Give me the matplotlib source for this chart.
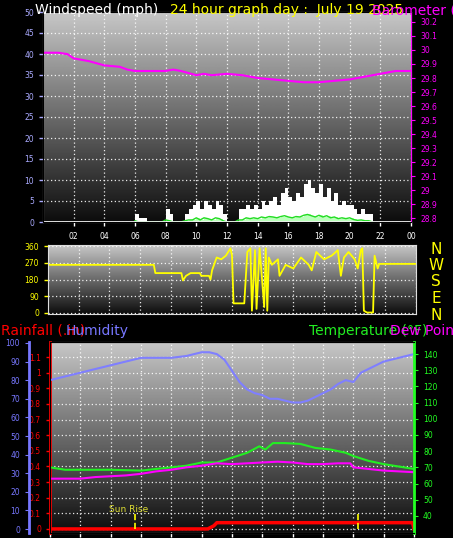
import numpy as np
import matplotlib
matplotlib.use("Agg")
import matplotlib.pyplot as plt

# ---- data ----
press_t = [0, 1, 1.6, 2, 3, 4, 5, 5.5, 6, 7, 8, 8.5, 9, 10, 10.5, 11, 12, 13, 14, 15, 16, 17, 18, 19, 20, 21, 22, 23, 24]
press_v = [29.98, 29.98, 29.97, 29.94, 29.92, 29.89, 29.88, 29.86, 29.85, 29.85, 29.85, 29.86, 29.85, 29.82, 29.83,
           29.82, 29.83, 29.82, 29.80, 29.79, 29.78, 29.77, 29.77, 29.78, 29.79, 29.81, 29.83, 29.85, 29.85]

wind_t = np.arange(6.0, 21.51, 0.25)
gust = [2, 1, 1, 0, 0, 0, 0, 0, 3, 2, 0, 0, 0, 2, 3, 4, 5, 3, 5, 4, 3, 5, 4, 2, 0, 0, 0, 3, 3, 4, 3, 4, 3, 5, 4, 5,
        6, 4, 7, 8, 6, 5, 7, 6, 9, 10, 8, 7, 9, 6, 8, 5, 7, 4, 5, 4, 4, 3, 2, 3, 2, 2, 0]
avg = [0.3, 0, 0, 0, 0, 0, 0, 0, 0.5, 0.3, 0, 0, 0, 0.3, 0.5, 0.5, 1, 0.5, 1, 0.8, 0.5, 1, 0.8, 0.3, 0, 0, 0, 0.5,
       0.5, 1, 0.8, 1, 0.8, 1.2, 1, 1.3, 1.2, 1, 1.3, 1.5, 1.2, 1, 1.3, 1.2, 1.6, 1.8, 1.5, 1.2, 1.6, 1.2, 1.5, 1,
       1.2, 0.8, 1, 0.8, 1, 0.6, 0.4, 0.5, 0.3, 0.3, 0]

dir_t = [0, 6.9, 7.0, 8.7, 8.8, 9.0, 9.3, 9.9, 10.0, 10.5, 10.6, 10.7, 11.0, 11.3, 11.6, 11.9, 12.0, 12.1, 12.8, 13.0,
         13.2, 13.3, 13.5, 13.6, 13.8, 14.1, 14.2, 14.3, 14.4, 14.6, 15.0, 15.1, 15.5, 16.0, 16.5, 17.0, 17.2, 17.5,
         18.0, 18.5, 18.9, 19.1, 19.3, 19.6, 20.0, 20.2, 20.4, 20.5, 20.6, 20.8, 21.2, 21.3, 21.5, 21.6, 24]
dir_v = [260, 260, 215, 215, 175, 200, 215, 215, 200, 200, 180, 230, 300, 290, 310, 350, 310, 50, 50, 330, 350, 10,
         340, 20, 350, 30, 350, 10, 300, 260, 290, 200, 260, 240, 300, 260, 230, 330, 290, 310, 340, 200, 300, 330,
         290, 240, 340, 350, 10, 0, 0, 310, 240, 265, 265]

hum_t = [0, 1, 2, 3, 4, 5, 6, 7, 8, 9, 10, 10.5, 11, 11.5, 12, 12.5, 13, 13.5, 14, 14.5, 15, 15.5, 16, 16.5, 17, 17.5,
         18, 18.5, 19, 19.5, 20, 20.5, 21, 22, 23, 24]
hum_v = [80, 82, 84, 86, 88, 90, 92, 92, 92, 93, 95, 95, 94, 91, 85, 79, 75, 73, 72, 70, 70, 69, 68, 68, 69, 71, 73,
         75, 78, 80, 79, 84, 86, 90, 92, 94]

temp_t = [0, 1, 4, 6, 7, 8, 9, 10, 11, 12, 13, 13.8, 14.2, 14.7, 15.5, 16.5, 17.5, 18.5, 19.5, 20, 21, 22, 23, 24]
temp_v = [70, 68.5, 68.5, 68, 69, 70, 71, 73, 73, 76, 79, 83, 81, 85, 85, 84.5, 82, 81, 79, 77, 74, 72, 70.5, 69]

dew_t = [0, 2, 3, 4, 5, 6, 7, 8, 9, 10, 11, 12, 13, 14, 15, 16, 17, 18, 19, 19.8, 20, 21, 22, 23, 24]
dew_v = [63, 63, 64, 64.5, 65, 66, 67.5, 68.5, 70, 71, 72.5, 72, 72.5, 73, 73.5, 73, 72, 72, 72.5, 72.5, 70, 69, 68,
         67.5, 67]

rain_t = [0, 10.4, 10.8, 11.0, 23.9, 24]
rain_v = [0, 0, 0.02, 0.04, 0.04, 0]

sun_times = [5.6, 20.3]
hour_labels = ["02", "04", "06", "08", "10", "12", "14", "16", "18", "20", "22", "00"]

W, H = 453, 538
fig = plt.figure(figsize=(W / 100, H / 100), dpi=100, facecolor="black")


def box(l, t, r, b):
    return [l / W, 1 - b / H, (r - l) / W, (b - t) / H]


grad = np.linspace(0.78, 0.05, 256).reshape(-1, 1)


def style(ax):
    ax.set_facecolor("black")
    ax.imshow(grad, cmap="gray", vmin=0, vmax=1, aspect="auto", extent=[0, 1, 0, 1],
              transform=ax.transAxes, zorder=0)
    ax.grid(True, color="white", linestyle=(0, (1, 2)), linewidth=0.9, alpha=0.9)
    for s in ax.spines.values():
        s.set_color("#dddddd")
    ax.tick_params(labelsize=5.5, length=3, width=1)


# ---- top: wind + pressure ----
ax1 = fig.add_axes(box(43, 12, 411, 222))
style(ax1)
ax1.set_xlim(0, 24)
ax1.set_ylim(0, 50)
ax1.set_yticks(range(0, 51, 5))
ax1.tick_params(axis="y", colors="#aaaaff", labelcolor="#aaaaff")
ax1.set_xticks(range(2, 25, 2))
ax1.set_xticklabels(hour_labels, color="yellow")
ax1.tick_params(axis="x", colors="white", pad=4)
ax1.bar(wind_t, gust, width=0.25, color="white", align="edge", zorder=3)
ax1.bar(wind_t, avg, width=0.25, color="#bbffbb", align="edge", zorder=4)
ax1.plot(wind_t, avg, color="#22dd22", lw=1, zorder=5)
ax1.axhline(0, color="white", lw=2, zorder=5)
ax1p = ax1.twinx()
ax1p.set_ylim(28.775, 30.27)
ax1p.set_yticks(np.round(np.arange(28.8, 30.21, 0.1), 1))
ax1p.set_yticklabels(["28.8", "28.9", "29", "29.1", "29.2", "29.3", "29.4", "29.5", "29.6", "29.7", "29.8",
                      "29.9", "30", "30.1", "30.2"])
ax1p.tick_params(colors="magenta", labelsize=5.5, length=3)
ax1p.spines["right"].set_color("magenta")
ax1p.plot(press_t, press_v, color="magenta", lw=1.5)
fig.text(35 / W, 1 - 10 / H, "Windspeed (mph)", color="white", fontsize=10, va="center")
fig.text(170 / W, 1 - 10 / H, "24 hour graph day :  July 19 2025", color="yellow", fontsize=10, va="center")
fig.text(372 / W, 1 - 10 / H, "Barometer (in)", color="magenta", fontsize=10, va="center")

# ---- middle: wind direction ----
ax2 = fig.add_axes(box(48, 245, 416, 314))
style(ax2)
ax2.set_xlim(0, 24)
ax2.set_ylim(-8, 368)
ax2.set_yticks([0, 90, 180, 270, 360])
ax2.set_xticks(range(2, 25, 2))
ax2.set_xticklabels([])
ax2.tick_params(axis="y", colors="yellow", labelcolor="yellow")
ax2.plot(dir_t, dir_v, color="yellow", lw=1.3)
for i, c in enumerate("NWSEN"):
    fig.text(436 / W, 1 - (249 + i * 16.5) / H, c, color="yellow", fontsize=11, ha="center", va="center")

# ---- bottom: humidity / rain / temperature ----
ax3 = fig.add_axes(box(50, 342, 414, 533))
style(ax3)
ax3.set_xlim(0, 24)
ax3.set_ylim(-0.026, 1.196)
ax3.set_yticks(np.round(np.arange(0, 1.11, 0.1), 1))
ax3.set_yticklabels(["0", "0.1", "0.2", "0.3", "0.4", "0.5", "0.6", "0.7", "0.8", "0.9", "1", "1.1"])
ax3.tick_params(axis="y", colors="red", labelcolor="red")
ax3.spines["left"].set_color("red")
ax3.spines["left"].set_linewidth(2)
ax3.set_xticks(range(0, 25, 2))
ax3.set_xticklabels([])
ax3.tick_params(axis="x", colors="white")
ax3.plot(rain_t, rain_v, color="red", lw=2.5, zorder=6)
for st in sun_times:
    ax3.plot([st, st], [0, 0.1], color="yellow", ls="--", lw=1.2, zorder=6)
ax3.text(sun_times[0] - 0.4, 0.11, "Sun Rise", color="#dddd33", fontsize=6.5, ha="center", zorder=6)

axh = ax3.twinx()
axh.spines["left"].set_position(("outward", 15))
axh.spines["left"].set_color("#7777ff")
axh.spines["left"].set_linewidth(2)
axh.spines["left"].set_visible(True)
axh.yaxis.set_ticks_position("left")
axh.yaxis.set_label_position("left")
axh.set_ylim(-2.1, 100.5)
axh.set_yticks(range(0, 101, 10))
axh.tick_params(colors="#7777ff", labelsize=5.5, length=3)
axh.plot(hum_t, hum_v, color="#7f7fff", lw=1.5, zorder=5)

axt = ax3.twinx()
axt.set_ylim(29.4, 147.5)
axt.set_yticks(range(40, 141, 10))
axt.tick_params(colors="#22ff22", labelsize=5.5, length=3)
axt.spines["right"].set_color("#22ff22")
axt.spines["right"].set_linewidth(2)
axt.plot(temp_t, temp_v, color="#22ee22", lw=1.5)
axt.plot(dew_t, dew_v, color="magenta", lw=1.5)

fig.text(1 / W, 1 - 331 / H, "Rainfall (.in)", color="red", fontsize=10, va="center")
fig.text(66 / W, 1 - 331 / H, "Humidity", color="#7777ff", fontsize=10, va="center")
fig.text(309 / W, 1 - 331 / H, "Temperature (°F)", color="#22ee22", fontsize=10, va="center")
fig.text(390 / W, 1 - 331 / H, "Dew Point", color="magenta", fontsize=10, va="center")

fig.savefig("out.png", dpi=100, facecolor="black")
